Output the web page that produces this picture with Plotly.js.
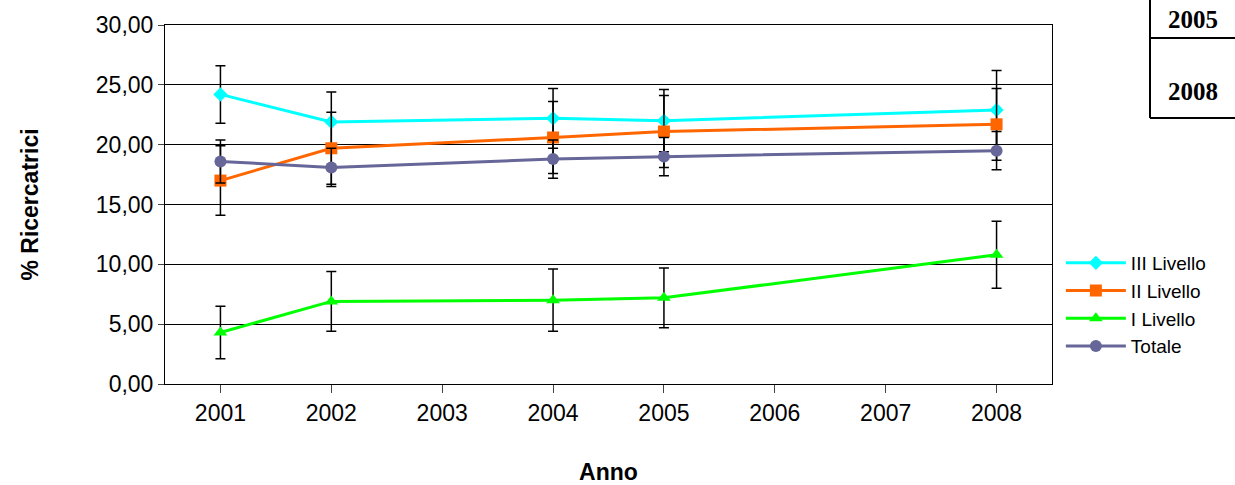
<!DOCTYPE html><html><head><script src="https://cdn.plot.ly/plotly-3.0.1.min.js"></script>
<style>body{margin:0}</style></head><body><div id="c" style="width:1235px;height:485px"></div><script>
const categories=["2001","2002","2003","2004","2005","2006","2007","2008"];
const years=["2001","2002","2004","2005","2008"];
const III=[24.2,21.9,22.2,22.0,22.9], IIIerr=[2.4,2.5,2.5,2.6,3.3];
const II=[17.0,19.7,20.6,21.1,21.7], IIerr=[2.9,3.0,3.0,3.0,3.0];
const I=[4.3,6.9,7.0,7.2,10.8], Ierr=[2.2,2.5,2.6,2.5,2.8];
const TOT=[18.6,18.1,18.8,19.0,19.5], TOTerr=[1.8,1.6,1.6,1.6,1.6];
function tr(name,y,e,color,sym){return {x:years,y:y,name:name,type:'scatter',mode:'lines+markers',
line:{color:color,width:3},marker:{color:color,symbol:sym,size:sym==='diamond'?11:12},
error_y:{type:'data',array:e,visible:true,color:'#000',thickness:1.5,width:5}};}
const data=[tr('III Livello',III,IIIerr,'#00ffff','diamond'),tr('II Livello',II,IIerr,'#ff6600','square'),
tr('I Livello',I,Ierr,'#00ff00','triangle-up'),tr('Totale',TOT,TOTerr,'#666699','circle')];
const W=887,H=359,L=165,T=25;
const px=x=>(x-L)/W, py=y=>(T+H-y)/H;
Plotly.newPlot('c',data,{width:1235,height:485,paper_bgcolor:'#fff',plot_bgcolor:'#fff',
margin:{l:165,r:183,t:25,b:101},font:{family:'Liberation Sans, Arial',size:22,color:'#000'},
xaxis:{type:'category',categoryorder:'array',categoryarray:categories,tickvals:categories,range:[-0.5,7.5],
showline:true,linecolor:'#000',mirror:true,showgrid:false,ticks:'outside',ticklen:8,tickfont:{size:23},
title:{text:'<b>Anno</b>',font:{size:23},standoff:40}},
yaxis:{range:[0,30],dtick:5,tickformat:'.2f',showline:true,linecolor:'#000',mirror:true,
gridcolor:'#000',gridwidth:1,ticks:'outside',ticklen:6,tickfont:{size:23},title:{text:'<b>% Ricercatrici</b>',font:{size:23},standoff:50}},
separators:',.',
legend:{x:1.01,y:0.39,xanchor:'left',yanchor:'top',font:{size:19},itemwidth:60},
shapes:[
{type:'line',xref:'paper',yref:'paper',x0:px(1150),x1:px(1240),y0:py(118),y1:py(118),line:{color:'#000',width:2}},
{type:'line',xref:'paper',yref:'paper',x0:px(1150),x1:px(1150),y0:py(118),y1:py(-2),line:{color:'#000',width:2}},
{type:'line',xref:'paper',yref:'paper',x0:px(1150),x1:px(1240),y0:py(38),y1:py(38),line:{color:'#000',width:2}}],
annotations:[{xref:'paper',yref:'paper',x:px(1166),y:py(19),xanchor:'left',yanchor:'middle',text:'<b>2005</b>',showarrow:false,font:{family:'Liberation Serif',size:25}},
{xref:'paper',yref:'paper',x:px(1166),y:py(92),xanchor:'left',yanchor:'middle',text:'<b>2008</b>',showarrow:false,font:{family:'Liberation Serif',size:25}}]
},{displayModeBar:false});
</script></body></html>
